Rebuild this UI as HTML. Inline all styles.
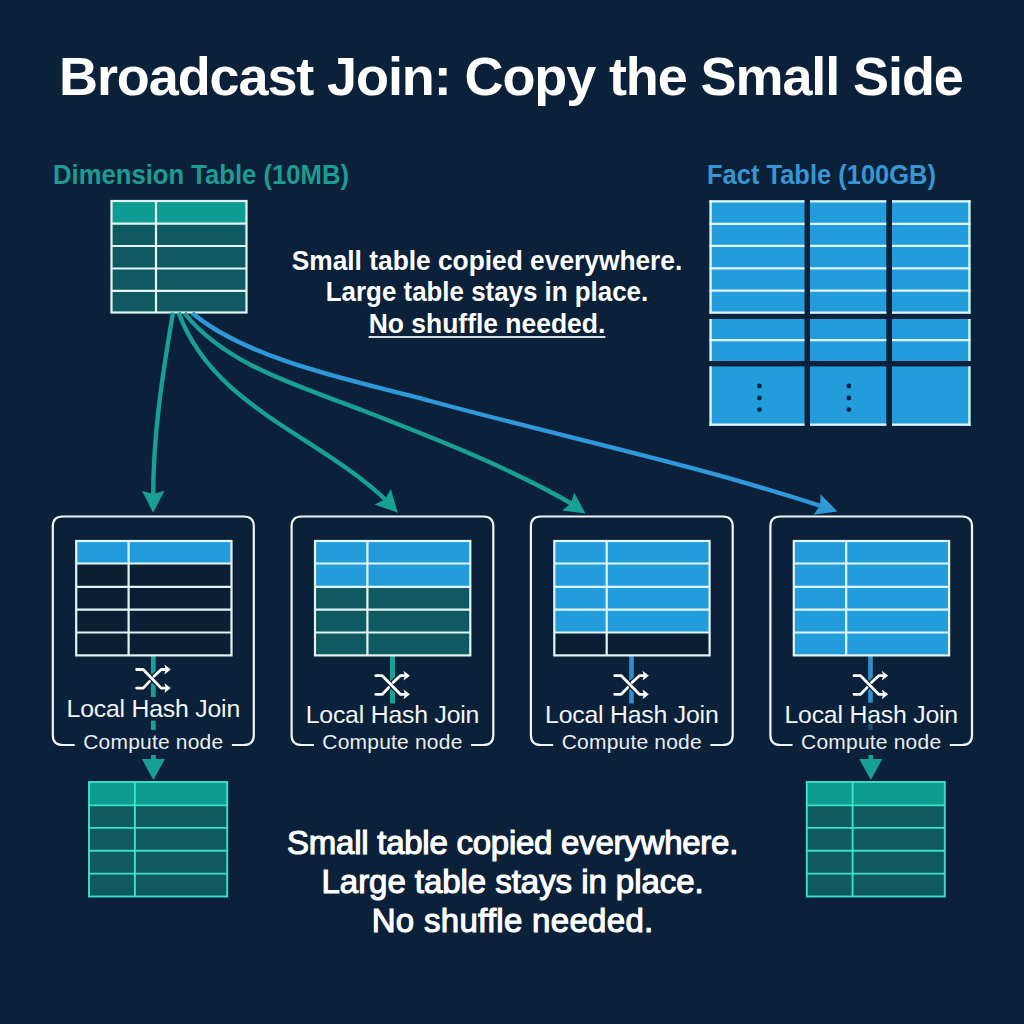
<!DOCTYPE html>
<html><head><meta charset="utf-8"><style>
html,body{margin:0;padding:0;background:#0b213a;}
body{width:1024px;height:1024px;overflow:hidden;background:#0b213a;position:relative;font-family:"Liberation Sans",sans-serif;}
</style></head><body>
<svg width="1024" height="1024" viewBox="0 0 1024 1024" style="position:absolute;left:0;top:0"><rect x="111.50" y="201.00" width="135.00" height="22.70" fill="#0e9c93" />
<rect x="111.50" y="223.70" width="135.00" height="22.30" fill="#0f5a60" />
<rect x="111.50" y="246.00" width="135.00" height="22.50" fill="#0f5a60" />
<rect x="111.50" y="268.50" width="135.00" height="22.30" fill="#0f5a60" />
<rect x="111.50" y="290.80" width="135.00" height="21.70" fill="#0f5a60" />
<line x1="111.50" y1="223.70" x2="246.50" y2="223.70" stroke="#e3f6f7" stroke-width="2.2"/>
<line x1="111.50" y1="246.00" x2="246.50" y2="246.00" stroke="#e3f6f7" stroke-width="2.2"/>
<line x1="111.50" y1="268.50" x2="246.50" y2="268.50" stroke="#e3f6f7" stroke-width="2.2"/>
<line x1="111.50" y1="290.80" x2="246.50" y2="290.80" stroke="#e3f6f7" stroke-width="2.2"/>
<line x1="156.00" y1="201.00" x2="156.00" y2="312.50" stroke="#e3f6f7" stroke-width="2.2"/>
<rect x="111.50" y="201.00" width="135.00" height="111.50" fill="none" stroke="#e3f6f7" stroke-width="2.2" />
<rect x="709.50" y="200.30" width="95.00" height="113.20" fill="#239cdb" />
<line x1="709.50" y1="201.30" x2="804.50" y2="201.30" stroke="#e3f6f7" stroke-width="2.2"/>
<line x1="709.50" y1="223.80" x2="804.50" y2="223.80" stroke="#e3f6f7" stroke-width="2.2"/>
<line x1="709.50" y1="245.80" x2="804.50" y2="245.80" stroke="#e3f6f7" stroke-width="2.2"/>
<line x1="709.50" y1="268.40" x2="804.50" y2="268.40" stroke="#e3f6f7" stroke-width="2.2"/>
<line x1="709.50" y1="290.60" x2="804.50" y2="290.60" stroke="#e3f6f7" stroke-width="2.2"/>
<line x1="709.50" y1="312.60" x2="804.50" y2="312.60" stroke="#e3f6f7" stroke-width="2.2"/>
<rect x="709.50" y="319.00" width="95.00" height="42.00" fill="#239cdb" />
<line x1="709.50" y1="340.10" x2="804.50" y2="340.10" stroke="#e3f6f7" stroke-width="2.2"/>
<rect x="709.50" y="366.40" width="95.00" height="59.40" fill="#239cdb" />
<line x1="709.50" y1="424.70" x2="804.50" y2="424.70" stroke="#e3f6f7" stroke-width="2.2"/>
<rect x="810.00" y="200.30" width="76.30" height="113.20" fill="#239cdb" />
<line x1="810.00" y1="201.30" x2="886.30" y2="201.30" stroke="#e3f6f7" stroke-width="2.2"/>
<line x1="810.00" y1="223.80" x2="886.30" y2="223.80" stroke="#e3f6f7" stroke-width="2.2"/>
<line x1="810.00" y1="245.80" x2="886.30" y2="245.80" stroke="#e3f6f7" stroke-width="2.2"/>
<line x1="810.00" y1="268.40" x2="886.30" y2="268.40" stroke="#e3f6f7" stroke-width="2.2"/>
<line x1="810.00" y1="290.60" x2="886.30" y2="290.60" stroke="#e3f6f7" stroke-width="2.2"/>
<line x1="810.00" y1="312.60" x2="886.30" y2="312.60" stroke="#e3f6f7" stroke-width="2.2"/>
<rect x="810.00" y="319.00" width="76.30" height="42.00" fill="#239cdb" />
<line x1="810.00" y1="340.10" x2="886.30" y2="340.10" stroke="#e3f6f7" stroke-width="2.2"/>
<rect x="810.00" y="366.40" width="76.30" height="59.40" fill="#239cdb" />
<line x1="810.00" y1="424.70" x2="886.30" y2="424.70" stroke="#e3f6f7" stroke-width="2.2"/>
<rect x="892.00" y="200.30" width="78.50" height="113.20" fill="#239cdb" />
<line x1="892.00" y1="201.30" x2="970.50" y2="201.30" stroke="#e3f6f7" stroke-width="2.2"/>
<line x1="892.00" y1="223.80" x2="970.50" y2="223.80" stroke="#e3f6f7" stroke-width="2.2"/>
<line x1="892.00" y1="245.80" x2="970.50" y2="245.80" stroke="#e3f6f7" stroke-width="2.2"/>
<line x1="892.00" y1="268.40" x2="970.50" y2="268.40" stroke="#e3f6f7" stroke-width="2.2"/>
<line x1="892.00" y1="290.60" x2="970.50" y2="290.60" stroke="#e3f6f7" stroke-width="2.2"/>
<line x1="892.00" y1="312.60" x2="970.50" y2="312.60" stroke="#e3f6f7" stroke-width="2.2"/>
<rect x="892.00" y="319.00" width="78.50" height="42.00" fill="#239cdb" />
<line x1="892.00" y1="340.10" x2="970.50" y2="340.10" stroke="#e3f6f7" stroke-width="2.2"/>
<rect x="892.00" y="366.40" width="78.50" height="59.40" fill="#239cdb" />
<line x1="892.00" y1="424.70" x2="970.50" y2="424.70" stroke="#e3f6f7" stroke-width="2.2"/>
<line x1="710.60" y1="200.30" x2="710.60" y2="313.50" stroke="#e3f6f7" stroke-width="2.2"/>
<line x1="710.60" y1="319.00" x2="710.60" y2="361.00" stroke="#e3f6f7" stroke-width="2.2"/>
<line x1="710.60" y1="366.40" x2="710.60" y2="425.80" stroke="#e3f6f7" stroke-width="2.2"/>
<line x1="969.40" y1="200.30" x2="969.40" y2="313.50" stroke="#e3f6f7" stroke-width="2.2"/>
<line x1="969.40" y1="319.00" x2="969.40" y2="361.00" stroke="#e3f6f7" stroke-width="2.2"/>
<line x1="969.40" y1="366.40" x2="969.40" y2="425.80" stroke="#e3f6f7" stroke-width="2.2"/>
<circle cx="759.4" cy="386" r="2.4" fill="#0b2540"/>
<circle cx="759.4" cy="398" r="2.4" fill="#0b2540"/>
<circle cx="759.4" cy="409.6" r="2.4" fill="#0b2540"/>
<circle cx="848.8" cy="386" r="2.4" fill="#0b2540"/>
<circle cx="848.8" cy="398" r="2.4" fill="#0b2540"/>
<circle cx="848.8" cy="409.6" r="2.4" fill="#0b2540"/>
<path d="M173.0,312.5 C162.6,373.8 152.9,435.6 153.2,497" fill="none" stroke="#18a096" stroke-width="4.4"/>
<polygon points="153.2,512.8 164.5,490.8 153.2,494.1 141.9,490.8" fill="#18a096"/>
<path d="M178.6,312.5 C212.9,406.8 317.2,434.5 387,501" fill="none" stroke="#18a096" stroke-width="4.4"/>
<polygon points="397.8,512.8 390.9,489.1 385.0,499.2 374.6,504.4" fill="#18a096"/>
<path d="M184.4,313 C225.0,365.1 301.9,386.8 360.0,409.4 C430.9,436.9 508.5,466.9 574.0,505.0" fill="none" stroke="#18a096" stroke-width="4.4"/>
<polygon points="585.5,513.5 574.3,492.7 570.8,503.4 562.1,510.5" fill="#18a096"/>
<path d="M192.2,313 C249.7,361.3 361.2,382.2 430.3,401.0 C563.4,437.2 692.0,463.7 824.0,507.0" fill="none" stroke="#2f98d8" stroke-width="4.4"/>
<polygon points="837.4,511.4 820.5,494.3 820.1,505.5 813.6,514.7" fill="#2f98d8"/>
<rect x="150.90" y="655.00" width="4.80" height="42.00" fill="#18a096" />
<rect x="150.90" y="720.60" width="4.80" height="9.40" fill="#18a096" />
<path d="M74.7,745 L62.8,745 Q52.8,745 52.8,735 L52.8,526.5 Q52.8,516.5 62.8,516.5 L243.8,516.5 Q253.8,516.5 253.8,526.5 L253.8,735 Q253.8,745 243.8,745 L231.9,745" fill="none" stroke="#f1f5f7" stroke-width="2.2"/>
<rect x="76.20" y="541.00" width="155.30" height="22.50" fill="#239cdb" />
<rect x="76.20" y="563.50" width="155.30" height="23.30" fill="#0a1e34" />
<rect x="76.20" y="586.80" width="155.30" height="22.90" fill="#0a1e34" />
<rect x="76.20" y="609.70" width="155.30" height="22.80" fill="#0a1e34" />
<rect x="76.20" y="632.50" width="155.30" height="22.90" fill="#0a1e34" />
<line x1="76.20" y1="563.50" x2="231.50" y2="563.50" stroke="#e3f6f7" stroke-width="2.2"/>
<line x1="76.20" y1="586.80" x2="231.50" y2="586.80" stroke="#e3f6f7" stroke-width="2.2"/>
<line x1="76.20" y1="609.70" x2="231.50" y2="609.70" stroke="#e3f6f7" stroke-width="2.2"/>
<line x1="76.20" y1="632.50" x2="231.50" y2="632.50" stroke="#e3f6f7" stroke-width="2.2"/>
<line x1="128.60" y1="541.00" x2="128.60" y2="655.40" stroke="#e3f6f7" stroke-width="2.2"/>
<rect x="76.20" y="541.00" width="155.30" height="114.40" fill="none" stroke="#e3f6f7" stroke-width="2.2" />
<rect x="390.00" y="655.00" width="5.00" height="48.50" fill="#18a096" />
<path d="M313.9,745 L301.6,745 Q291.6,745 291.6,735 L291.6,526.5 Q291.6,516.5 301.6,516.5 L483.3,516.5 Q493.3,516.5 493.3,526.5 L493.3,735 Q493.3,745 483.3,745 L471.1,745" fill="none" stroke="#f1f5f7" stroke-width="2.2"/>
<rect x="315.00" y="541.00" width="155.30" height="22.50" fill="#239cdb" />
<rect x="315.00" y="563.50" width="155.30" height="23.30" fill="#239cdb" />
<rect x="315.00" y="586.80" width="155.30" height="22.90" fill="#0f5a60" />
<rect x="315.00" y="609.70" width="155.30" height="22.80" fill="#0f5a60" />
<rect x="315.00" y="632.50" width="155.30" height="22.90" fill="#0f5a60" />
<line x1="315.00" y1="563.50" x2="470.30" y2="563.50" stroke="#e3f6f7" stroke-width="2.2"/>
<line x1="315.00" y1="586.80" x2="470.30" y2="586.80" stroke="#e3f6f7" stroke-width="2.2"/>
<line x1="315.00" y1="609.70" x2="470.30" y2="609.70" stroke="#e3f6f7" stroke-width="2.2"/>
<line x1="315.00" y1="632.50" x2="470.30" y2="632.50" stroke="#e3f6f7" stroke-width="2.2"/>
<line x1="367.40" y1="541.00" x2="367.40" y2="655.40" stroke="#e3f6f7" stroke-width="2.2"/>
<rect x="315.00" y="541.00" width="155.30" height="114.40" fill="none" stroke="#e3f6f7" stroke-width="2.2" />
<rect x="629.20" y="655.00" width="4.60" height="48.50" fill="#2f8fcc" />
<path d="M553.2,745 L540.9,745 Q530.9,745 530.9,735 L530.9,526.5 Q530.9,516.5 540.9,516.5 L722.7,516.5 Q732.7,516.5 732.7,526.5 L732.7,735 Q732.7,745 722.7,745 L710.4,745" fill="none" stroke="#f1f5f7" stroke-width="2.2"/>
<rect x="554.30" y="541.00" width="155.30" height="22.50" fill="#239cdb" />
<rect x="554.30" y="563.50" width="155.30" height="23.30" fill="#239cdb" />
<rect x="554.30" y="586.80" width="155.30" height="22.90" fill="#239cdb" />
<rect x="554.30" y="609.70" width="155.30" height="22.80" fill="#239cdb" />
<rect x="554.30" y="632.50" width="155.30" height="22.90" fill="#0a1e34" />
<line x1="554.30" y1="563.50" x2="709.60" y2="563.50" stroke="#e3f6f7" stroke-width="2.2"/>
<line x1="554.30" y1="586.80" x2="709.60" y2="586.80" stroke="#e3f6f7" stroke-width="2.2"/>
<line x1="554.30" y1="609.70" x2="709.60" y2="609.70" stroke="#e3f6f7" stroke-width="2.2"/>
<line x1="554.30" y1="632.50" x2="709.60" y2="632.50" stroke="#e3f6f7" stroke-width="2.2"/>
<line x1="606.70" y1="541.00" x2="606.70" y2="655.40" stroke="#e3f6f7" stroke-width="2.2"/>
<rect x="554.30" y="541.00" width="155.30" height="114.40" fill="none" stroke="#e3f6f7" stroke-width="2.2" />
<rect x="868.20" y="655.00" width="4.60" height="47.70" fill="#2f8fcc" />
<rect x="868.20" y="723.80" width="4.60" height="6.20" fill="#1d4d6e" />
<path d="M792.6,745 L780.4,745 Q770.4,745 770.4,735 L770.4,526.5 Q770.4,516.5 780.4,516.5 L962.0,516.5 Q972.0,516.5 972.0,526.5 L972.0,735 Q972.0,745 962.0,745 L949.8,745" fill="none" stroke="#f1f5f7" stroke-width="2.2"/>
<rect x="793.80" y="541.00" width="155.30" height="22.50" fill="#239cdb" />
<rect x="793.80" y="563.50" width="155.30" height="23.30" fill="#239cdb" />
<rect x="793.80" y="586.80" width="155.30" height="22.90" fill="#239cdb" />
<rect x="793.80" y="609.70" width="155.30" height="22.80" fill="#239cdb" />
<rect x="793.80" y="632.50" width="155.30" height="22.90" fill="#239cdb" />
<line x1="793.80" y1="563.50" x2="949.10" y2="563.50" stroke="#e3f6f7" stroke-width="2.2"/>
<line x1="793.80" y1="586.80" x2="949.10" y2="586.80" stroke="#e3f6f7" stroke-width="2.2"/>
<line x1="793.80" y1="609.70" x2="949.10" y2="609.70" stroke="#e3f6f7" stroke-width="2.2"/>
<line x1="793.80" y1="632.50" x2="949.10" y2="632.50" stroke="#e3f6f7" stroke-width="2.2"/>
<line x1="846.20" y1="541.00" x2="846.20" y2="655.40" stroke="#e3f6f7" stroke-width="2.2"/>
<rect x="793.80" y="541.00" width="155.30" height="114.40" fill="none" stroke="#e3f6f7" stroke-width="2.2" />
<rect x="151.00" y="755.00" width="4.80" height="7.00" fill="#18a096" />
<polygon points="141.9,759 164.9,759 153.4,780" fill="#18a096"/>
<rect x="89.00" y="782.00" width="138.20" height="23.40" fill="#0e9c90" />
<rect x="89.00" y="805.40" width="138.20" height="22.50" fill="#0e5a5e" />
<rect x="89.00" y="827.90" width="138.20" height="22.80" fill="#0e5a5e" />
<rect x="89.00" y="850.70" width="138.20" height="22.90" fill="#0e5a5e" />
<rect x="89.00" y="873.60" width="138.20" height="22.90" fill="#0e5a5e" />
<line x1="89.00" y1="805.40" x2="227.20" y2="805.40" stroke="#3fe0c9" stroke-width="1.9"/>
<line x1="89.00" y1="827.90" x2="227.20" y2="827.90" stroke="#3fe0c9" stroke-width="1.9"/>
<line x1="89.00" y1="850.70" x2="227.20" y2="850.70" stroke="#3fe0c9" stroke-width="1.9"/>
<line x1="89.00" y1="873.60" x2="227.20" y2="873.60" stroke="#3fe0c9" stroke-width="1.9"/>
<line x1="134.90" y1="782.00" x2="134.90" y2="896.50" stroke="#3fe0c9" stroke-width="1.9"/>
<rect x="89.00" y="782.00" width="138.20" height="114.50" fill="none" stroke="#3fe0c9" stroke-width="1.9" />
<rect x="868.40" y="755.00" width="4.80" height="7.00" fill="#18a096" />
<polygon points="859.3,759 882.3,759 870.8,780" fill="#18a096"/>
<rect x="806.80" y="782.00" width="138.00" height="23.40" fill="#0e9c90" />
<rect x="806.80" y="805.40" width="138.00" height="22.50" fill="#0e5a5e" />
<rect x="806.80" y="827.90" width="138.00" height="22.80" fill="#0e5a5e" />
<rect x="806.80" y="850.70" width="138.00" height="22.90" fill="#0e5a5e" />
<rect x="806.80" y="873.60" width="138.00" height="22.90" fill="#0e5a5e" />
<line x1="806.80" y1="805.40" x2="944.80" y2="805.40" stroke="#3fe0c9" stroke-width="1.9"/>
<line x1="806.80" y1="827.90" x2="944.80" y2="827.90" stroke="#3fe0c9" stroke-width="1.9"/>
<line x1="806.80" y1="850.70" x2="944.80" y2="850.70" stroke="#3fe0c9" stroke-width="1.9"/>
<line x1="806.80" y1="873.60" x2="944.80" y2="873.60" stroke="#3fe0c9" stroke-width="1.9"/>
<line x1="852.60" y1="782.00" x2="852.60" y2="896.50" stroke="#3fe0c9" stroke-width="1.9"/>
<rect x="806.80" y="782.00" width="138.00" height="114.50" fill="none" stroke="#3fe0c9" stroke-width="1.9" />
<g transform="translate(153.2,678.8)" fill="none" stroke="#0b213a" stroke-width="5.5" stroke-linecap="round" stroke-linejoin="round">
<path d="M-10,-9.3 L8,9.3"/>
<path d="M-10,9.3 L-3.6,2.6"/>
<path d="M0.8,-2.6 L8,-9.3"/>
</g>
<g transform="translate(153.2,678.8)" fill="none" stroke="#ffffff" stroke-width="2.8" stroke-linecap="round" stroke-linejoin="round">
<path d="M-16.6,-9.3 L-10,-9.3 L8,9.3 L13,9.3"/>
<path d="M-16.6,9.3 L-10,9.3 L-3.6,2.6"/>
<path d="M0.8,-2.6 L8,-9.3 L13,-9.3"/>
</g>
<g transform="translate(153.2,678.8)" fill="#ffffff">
<polygon points="17.6,-9.3 11.2,-14.2 12.6,-9.3 11.2,-4.4"/>
<polygon points="17.6,9.3 11.2,4.4 12.6,9.3 11.2,14.2"/>
</g>
<g transform="translate(392.3,685.0)" fill="none" stroke="#0b213a" stroke-width="5.5" stroke-linecap="round" stroke-linejoin="round">
<path d="M-10,-9.3 L8,9.3"/>
<path d="M-10,9.3 L-3.6,2.6"/>
<path d="M0.8,-2.6 L8,-9.3"/>
</g>
<g transform="translate(392.3,685.0)" fill="none" stroke="#ffffff" stroke-width="2.8" stroke-linecap="round" stroke-linejoin="round">
<path d="M-16.6,-9.3 L-10,-9.3 L8,9.3 L13,9.3"/>
<path d="M-16.6,9.3 L-10,9.3 L-3.6,2.6"/>
<path d="M0.8,-2.6 L8,-9.3 L13,-9.3"/>
</g>
<g transform="translate(392.3,685.0)" fill="#ffffff">
<polygon points="17.6,-9.3 11.2,-14.2 12.6,-9.3 11.2,-4.4"/>
<polygon points="17.6,9.3 11.2,4.4 12.6,9.3 11.2,14.2"/>
</g>
<g transform="translate(631.3,685.0)" fill="none" stroke="#0b213a" stroke-width="5.5" stroke-linecap="round" stroke-linejoin="round">
<path d="M-10,-9.3 L8,9.3"/>
<path d="M-10,9.3 L-3.6,2.6"/>
<path d="M0.8,-2.6 L8,-9.3"/>
</g>
<g transform="translate(631.3,685.0)" fill="none" stroke="#ffffff" stroke-width="2.8" stroke-linecap="round" stroke-linejoin="round">
<path d="M-16.6,-9.3 L-10,-9.3 L8,9.3 L13,9.3"/>
<path d="M-16.6,9.3 L-10,9.3 L-3.6,2.6"/>
<path d="M0.8,-2.6 L8,-9.3 L13,-9.3"/>
</g>
<g transform="translate(631.3,685.0)" fill="#ffffff">
<polygon points="17.6,-9.3 11.2,-14.2 12.6,-9.3 11.2,-4.4"/>
<polygon points="17.6,9.3 11.2,4.4 12.6,9.3 11.2,14.2"/>
</g>
<g transform="translate(870.6,685.0)" fill="none" stroke="#0b213a" stroke-width="5.5" stroke-linecap="round" stroke-linejoin="round">
<path d="M-10,-9.3 L8,9.3"/>
<path d="M-10,9.3 L-3.6,2.6"/>
<path d="M0.8,-2.6 L8,-9.3"/>
</g>
<g transform="translate(870.6,685.0)" fill="none" stroke="#ffffff" stroke-width="2.8" stroke-linecap="round" stroke-linejoin="round">
<path d="M-16.6,-9.3 L-10,-9.3 L8,9.3 L13,9.3"/>
<path d="M-16.6,9.3 L-10,9.3 L-3.6,2.6"/>
<path d="M0.8,-2.6 L8,-9.3 L13,-9.3"/>
</g>
<g transform="translate(870.6,685.0)" fill="#ffffff">
<polygon points="17.6,-9.3 11.2,-14.2 12.6,-9.3 11.2,-4.4"/>
<polygon points="17.6,9.3 11.2,4.4 12.6,9.3 11.2,14.2"/>
</g></svg>
<div style="position:absolute;left:59.00px;top:49.39px;font-size:54px;line-height:1;color:#ffffff;font-weight:bold;letter-spacing:-1.1px;text-align:left;white-space:nowrap;">Broadcast Join: Copy the Small Side</div><div style="position:absolute;left:53.00px;top:161.64px;font-size:27px;line-height:1;color:#1f9c92;font-weight:bold;letter-spacing:0px;text-align:left;white-space:nowrap;transform:scaleX(0.95);transform-origin:0 0;">Dimension Table (10MB)</div><div style="position:absolute;left:707.00px;top:161.94px;font-size:27px;line-height:1;color:#3896d3;font-weight:bold;letter-spacing:0px;text-align:left;white-space:nowrap;transform:scaleX(0.944);transform-origin:0 0;">Fact Table (100GB)</div><div style="position:absolute;left:186.60px;top:247.30px;width:600px;font-size:28px;line-height:1;color:#ffffff;font-weight:bold;letter-spacing:0px;text-align:center;white-space:nowrap;transform:scaleX(0.94);">Small table copied everywhere.</div><div style="position:absolute;left:186.60px;top:278.30px;width:600px;font-size:28px;line-height:1;color:#ffffff;font-weight:bold;letter-spacing:0px;text-align:center;white-space:nowrap;transform:scaleX(0.925);">Large table stays in place.</div><div style="position:absolute;left:186.60px;top:309.60px;width:600px;font-size:28px;line-height:1;color:#ffffff;font-weight:bold;letter-spacing:0px;text-align:center;white-space:nowrap;text-decoration:underline;text-decoration-thickness:1.6px;text-underline-offset:3px;text-decoration-color:#d3dde6;transform:scaleX(0.945);">No shuffle needed.</div><div style="position:absolute;left:212.60px;top:825.57px;width:600px;font-size:33px;line-height:1;color:#ffffff;font-weight:normal;letter-spacing:-0.25px;text-align:center;white-space:nowrap;-webkit-text-stroke:1.1px #ffffff;">Small table copied everywhere.</div><div style="position:absolute;left:212.60px;top:865.07px;width:600px;font-size:33px;line-height:1;color:#ffffff;font-weight:normal;letter-spacing:-0.05px;text-align:center;white-space:nowrap;-webkit-text-stroke:1.1px #ffffff;">Large table stays in place.</div><div style="position:absolute;left:212.60px;top:904.07px;width:600px;font-size:33px;line-height:1;color:#ffffff;font-weight:normal;letter-spacing:0.3px;text-align:center;white-space:nowrap;-webkit-text-stroke:1.1px #ffffff;">No shuffle needed.</div><div style="position:absolute;left:33.30px;top:696.61px;width:240px;font-size:24.8px;line-height:1;color:#f2f5f8;font-weight:normal;letter-spacing:-0.2px;text-align:center;white-space:nowrap;">Local Hash Join</div><div style="position:absolute;left:33.30px;top:731.02px;width:240px;font-size:21px;line-height:1;color:#e8eef2;font-weight:normal;letter-spacing:0.2px;text-align:center;white-space:nowrap;">Compute node</div><div style="position:absolute;left:272.45px;top:702.61px;width:240px;font-size:24.8px;line-height:1;color:#f2f5f8;font-weight:normal;letter-spacing:-0.2px;text-align:center;white-space:nowrap;">Local Hash Join</div><div style="position:absolute;left:272.45px;top:731.02px;width:240px;font-size:21px;line-height:1;color:#e8eef2;font-weight:normal;letter-spacing:0.2px;text-align:center;white-space:nowrap;">Compute node</div><div style="position:absolute;left:511.80px;top:702.61px;width:240px;font-size:24.8px;line-height:1;color:#f2f5f8;font-weight:normal;letter-spacing:-0.2px;text-align:center;white-space:nowrap;">Local Hash Join</div><div style="position:absolute;left:511.80px;top:731.02px;width:240px;font-size:21px;line-height:1;color:#e8eef2;font-weight:normal;letter-spacing:0.2px;text-align:center;white-space:nowrap;">Compute node</div><div style="position:absolute;left:751.20px;top:702.61px;width:240px;font-size:24.8px;line-height:1;color:#f2f5f8;font-weight:normal;letter-spacing:-0.2px;text-align:center;white-space:nowrap;">Local Hash Join</div><div style="position:absolute;left:751.20px;top:731.02px;width:240px;font-size:21px;line-height:1;color:#e8eef2;font-weight:normal;letter-spacing:0.2px;text-align:center;white-space:nowrap;">Compute node</div>
</body></html>
